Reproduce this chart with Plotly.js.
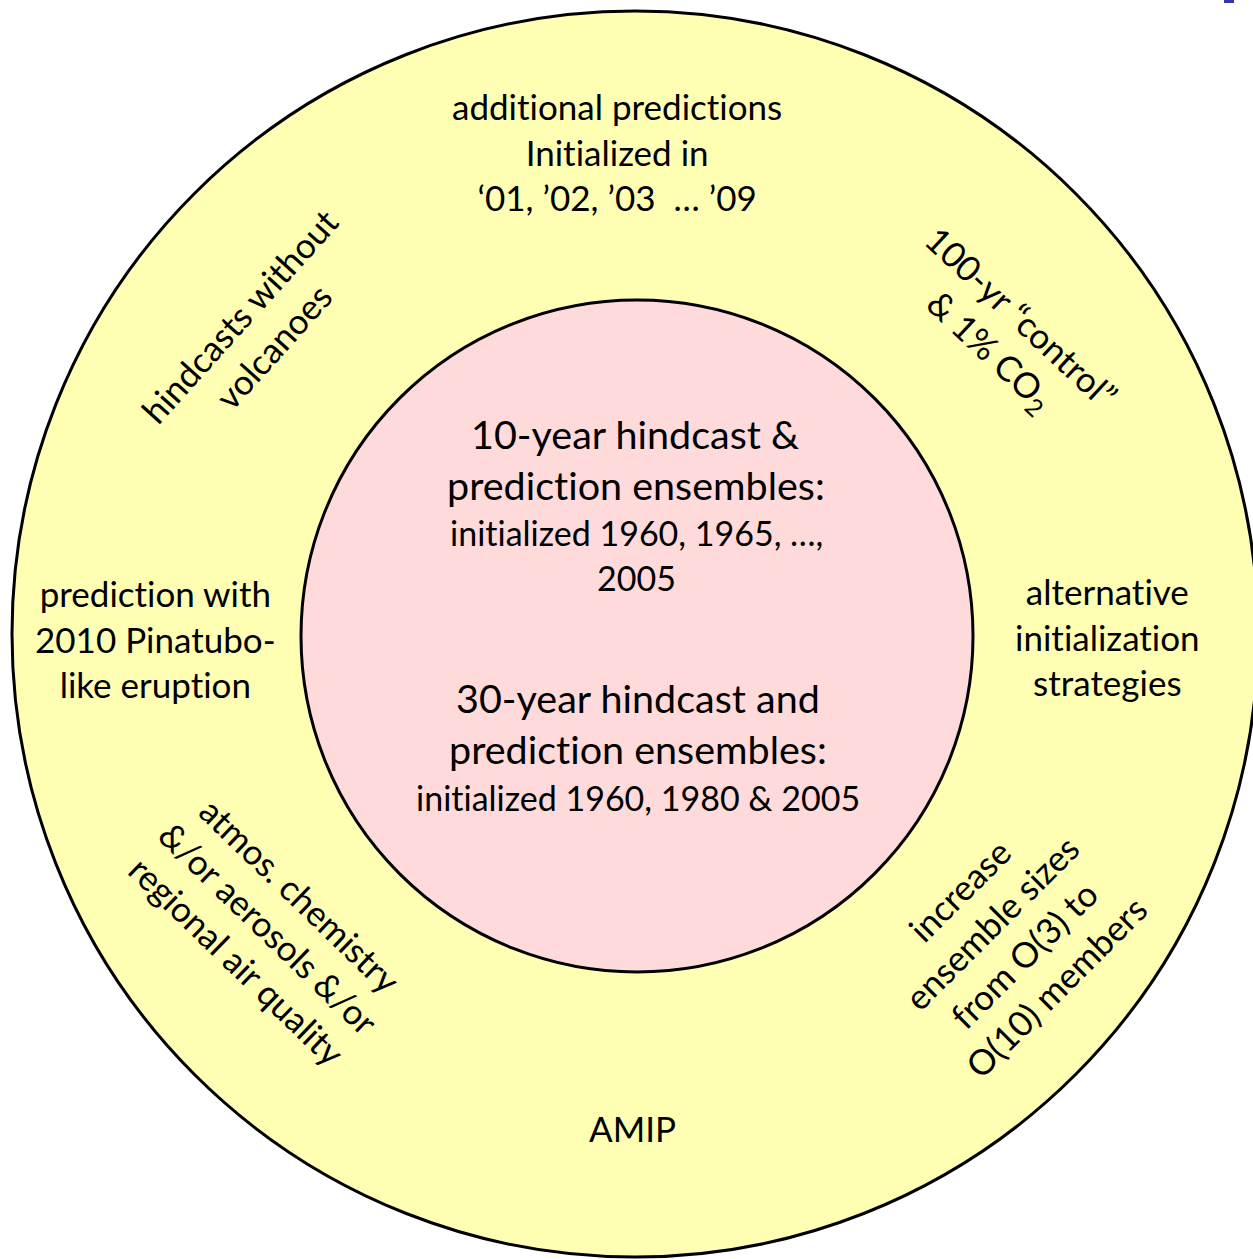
<!DOCTYPE html>
<html>
<head>
<meta charset="utf-8">
<script src="https://cdn.plot.ly/plotly-3.0.1.min.js"></script>
<style>html,body{margin:0;padding:0;background:#fff;}#chart{width:1253px;height:1259px;}
svg text{font-variant-ligatures:none;font-feature-settings:"liga" 0,"clig" 0;}</style>
</head>
<body>
<div id="chart"></div>
<script>
// ---- content ----
const outerLabels = [
  "additional predictions<br>Initialized in<br>‘01, ’02, ’03  … ’09",
  "hindcasts without<br>volcanoes",
  "100-yr “control”<br>& 1% CO<sub>2</sub>",
  "prediction with<br>2010 Pinatubo-<br>like eruption",
  "alternative<br>initialization<br>strategies",
  "atmos. chemistry<br>&/or aerosols &/or<br>regional air quality",
  "increase<br>ensemble sizes<br>from O(3) to<br>O(10) members",
  "AMIP"
];
const innerHeadlines = ["10-year hindcast &", "prediction ensembles:", "30-year hindcast and", "prediction ensembles:"];
const innerDetails = ["initialized 1960, 1965, …,", "2005", "initialized 1960, 1980 & 2005"];

// ---- layout helpers ----
const FONT = "Lato, 'Open Sans', sans-serif";
const outerPlace = [
  {x: 617, y: 151, a: 0},
  {x: 256, y: 331, a: -48},
  {x: 1005, y: 335, a: 43},
  {x: 155, y: 638, a: 0},
  {x: 1107, y: 636, a: 0},
  {x: 269, y: 927, a: 44},
  {x: 1007, y: 938, a: -45},
  {x: 632, y: 1128, a: 0}
];
const headPlace = [{x: 635, y: 433}, {x: 636, y: 484}, {x: 638, y: 697}, {x: 638, y: 748}];
const detailPlace = [{x: 636, y: 532}, {x: 636, y: 577}, {x: 638, y: 797}];

const annotations = [];
outerLabels.forEach((t, i) => annotations.push({
  x: outerPlace[i].x, y: outerPlace[i].y, xref: 'x', yref: 'y', text: t, showarrow: false,
  textangle: outerPlace[i].a, align: 'center', xanchor: 'center', yanchor: 'middle',
  font: {family: FONT, size: 35, color: '#000'}
}));
innerHeadlines.forEach((t, i) => annotations.push({
  x: headPlace[i].x, y: headPlace[i].y, xref: 'x', yref: 'y', text: t, showarrow: false,
  xanchor: 'center', yanchor: 'middle', font: {family: FONT, size: 39.5, color: '#000'}
}));
innerDetails.forEach((t, i) => annotations.push({
  x: detailPlace[i].x, y: detailPlace[i].y, xref: 'x', yref: 'y', text: t, showarrow: false,
  xanchor: 'center', yanchor: 'middle', font: {family: FONT, size: 34, color: '#000'}
}));

const oc = {x: 635, y: 634, r: 623};
const ic = {x: 637, y: 636, r: 336};
const shapes = [
  {type: 'circle', xref: 'x', yref: 'y', x0: oc.x - oc.r, x1: oc.x + oc.r, y0: oc.y - oc.r, y1: oc.y + oc.r,
   fillcolor: '#FFFFB3', line: {color: '#000', width: 3}, layer: 'below'},
  {type: 'circle', xref: 'x', yref: 'y', x0: ic.x - ic.r, x1: ic.x + ic.r, y0: ic.y - ic.r, y1: ic.y + ic.r,
   fillcolor: '#FFDADA', line: {color: '#000', width: 3}, layer: 'below'},
  {type: 'rect', xref: 'x', yref: 'y', x0: 1224, x1: 1234, y0: 0, y1: 3,
   fillcolor: '#3636A6', line: {width: 0}}
];

const layout = {
  width: 1253, height: 1259,
  margin: {l: 0, r: 0, t: 0, b: 0, pad: 0},
  paper_bgcolor: '#fff', plot_bgcolor: '#fff',
  showlegend: false,
  xaxis: {range: [0, 1253], visible: false, fixedrange: true},
  yaxis: {range: [1259, 0], visible: false, fixedrange: true},
  shapes: shapes,
  annotations: annotations
};
Plotly.newPlot('chart', [{x: [], y: [], type: 'scatter', hoverinfo: 'skip'}], layout, {staticPlot: true, displayModeBar: false});
</script>
</body>
</html>
